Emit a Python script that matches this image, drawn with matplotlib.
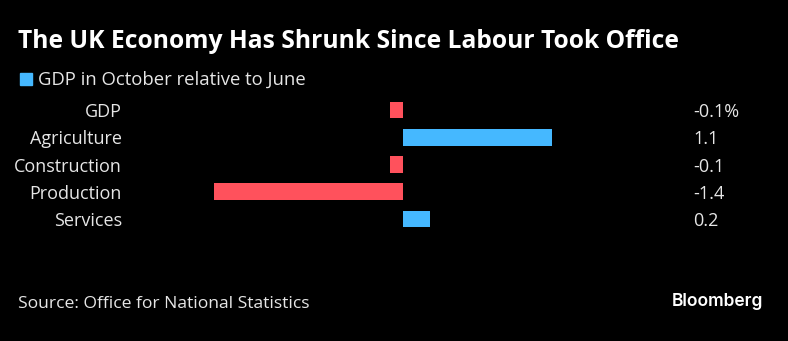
import matplotlib
matplotlib.use("Agg")
import matplotlib.pyplot as plt
from matplotlib.patches import Rectangle

categories = ["GDP", "Agriculture", "Construction", "Production", "Services"]
values = [-0.1, 1.1, -0.1, -1.4, 0.2]
value_labels = ["-0.1%", "1.1", "-0.1", "-1.4", "0.2"]
title = "The UK Economy Has Shrunk Since Labour Took Office"
legend_label = "GDP in October relative to June"
source = "Source: Office for National Statistics"

RED = "#FF515C"
BLUE = "#45B8FF"
BG = "#000000"
W, H = 788, 341

fig = plt.figure(figsize=(W / 100, H / 100), dpi=100, facecolor=BG)
plt.rcParams['font.family'] = ['Open Sans', 'DejaVu Sans']

left = 214 / W
right = 552 / W
top = 1 - 96.4 / H
bottom = 1 - 232.6 / H
ax = fig.add_axes([left, bottom, right - left, top - bottom])
ax.set_facecolor(BG)
ys = list(range(len(categories)))
colors = [RED if v < 0 else BLUE for v in values]
ax.barh(ys, values, height=0.62, color=colors)
ax.set_xlim(-1.4, 1.1)
ax.set_ylim(len(categories) - 0.5, -0.5)
ax.axis("off")

for y, cat, lab in zip(ys, categories, value_labels):
    yf = ax.transData.transform((0, y))[1] / H - 2 / H
    fig.text(122 / W, yf, cat, ha="right", va="center", color="#e6e6e6", fontsize=13)
    fig.text(693 / W, yf, lab, ha="left", va="center", color="#e6e6e6", fontsize=13)

fig.text(18 / W, 1 - 41 / H, title, ha="left", va="center", color="white",
         fontsize=17.7, fontweight="bold")
fig.patches.append(Rectangle((20 / W, 1 - 85 / H), 12 / W, 12 / H,
                             transform=fig.transFigure, color=BLUE, figure=fig))
fig.text(38 / W, 1 - 79.5 / H, legend_label, ha="left", va="center", color="#e6e6e6",
         fontsize=13.3)
fig.text(18 / W, 1 - 304 / H, source, ha="left", va="center", color="#e6e6e6",
         fontsize=12.6)
fig.text(763 / W, 1 - 301 / H, "Bloomberg", ha="right", va="center", color="white",
         fontsize=12.5, fontweight="semibold", family=["Inter", "DejaVu Sans"])

fig.savefig("out.png", dpi=100, facecolor=BG)
